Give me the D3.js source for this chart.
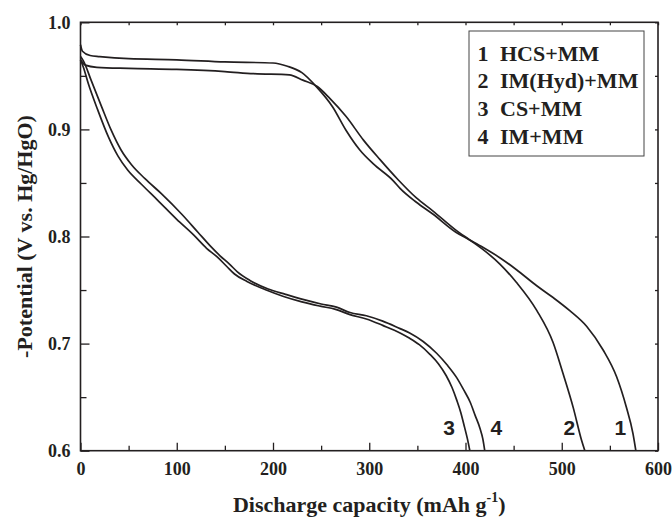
<!DOCTYPE html>
<html><head><meta charset="utf-8">
<script src="https://cdn.jsdelivr.net/npm/d3@7"></script>
<style>
html,body{margin:0;padding:0;background:#fff;}
svg text{font-family:"Liberation Serif","Times New Roman",serif;font-weight:bold;fill:#231f20;}
</style></head>
<body>
<svg id="chart" width="672" height="518"></svg>
<script>
// ---- data ----
const seriesNames = ["HCS+MM", "IM(Hyd)+MM", "CS+MM", "IM+MM"];
const seriesNumbers = ["1", "2", "3", "4"];

const cap1 = [0,2,10,20,50,100,150,200,215,230,245,262,276,290,304,325,332,349,366,390,404,418,436,453,474,491,508,526,543,557,567,574,577];
const pot1 = [0.979,0.973,0.969,0.968,0.966,0.965,0.963,0.962,0.959,0.953,0.940,0.921,0.899,0.881,0.868,0.852,0.845,0.832,0.821,0.804,0.797,0.790,0.780,0.769,0.754,0.743,0.731,0.716,0.694,0.669,0.641,0.616,0.600];

const cap2 = [0,5,17,50,100,150,180,217,231,246,259,276,294,311,330,349,366,390,404,418,436,453,474,491,501,512,520.5,524];
const pot2 = [0.965,0.960,0.958,0.957,0.956,0.954,0.952,0.951,0.946,0.940,0.929,0.912,0.890,0.872,0.853,0.836,0.824,0.806,0.797,0.788,0.774,0.757,0.731,0.701,0.673,0.640,0.610,0.600];

const cap3 = [0,3,8,18,29,39,49,63,80,100,118,131,142,152,160,173,193,211,230,249,265,280,297,314,332,342,352,363,372,380,386,391,395,399,402,404.5];
const pot3 = [0.965,0.958,0.943,0.918,0.893,0.875,0.862,0.849,0.834,0.816,0.801,0.789,0.781,0.772,0.765,0.758,0.750,0.744,0.739,0.735,0.732,0.727,0.723,0.717,0.710,0.705,0.699,0.690,0.681,0.670,0.659,0.647,0.636,0.622,0.611,0.600];

const cap4 = [0,3,11,22,32,42,53,67,84,105,122,135,145,155,163,176,195,213,232,250,266,280,297,314,332,342,356,370,381,391,398,405,410,415,418,420];
const pot4 = [0.968,0.964,0.946,0.921,0.899,0.881,0.867,0.854,0.840,0.821,0.804,0.791,0.782,0.774,0.767,0.759,0.751,0.746,0.741,0.737,0.734,0.729,0.726,0.721,0.714,0.710,0.702,0.691,0.680,0.668,0.657,0.645,0.633,0.621,0.611,0.600];

const xTicks = [0,100,200,300,400,500,600];
const yTicks = [0.6,0.7,0.8,0.9,1.0];
const xLabel = "Discharge capacity (mAh g";
const yLabel = "-Potential (V vs. Hg/HgO)";
// capacity positions of the curve numbers near the bottom
const curveLabelCap = [561, 508, 383, 432];

// ---- layout ----
const svg = d3.select("#chart");
const L = 80.5, R = 658, T = 22.3, B = 450.7;
const x = d3.scaleLinear().domain([0,600]).range([L,R]);
const y = d3.scaleLinear().domain([0.6,1.0]).range([B,T]);
const ink = "#231f20";

const series = [
  {cap:cap1, pot:pot1},
  {cap:cap2, pot:pot2},
  {cap:cap3, pot:pot3},
  {cap:cap4, pot:pot4}
];

const line = d3.line().x(d=>x(d[0])).y(d=>y(d[1])).curve(d3.curveMonotoneX);
const g = svg.append("g");
series.forEach(s=>{
  g.append("path")
   .datum(s.cap.map((c,i)=>[c,s.pot[i]]))
   .attr("d", line)
   .attr("fill","none")
   .attr("stroke", ink)
   .attr("stroke-width",1.7)
   .attr("stroke-linejoin","round");
});

// axes
const minorX = d3.range(0,601,50);
const minorY = d3.range(0,9).map(i=>+(0.6+i*0.05).toFixed(2));

function styleAxis(sel){
  sel.select(".domain").remove();
  sel.selectAll(".tick line").attr("stroke", ink).attr("stroke-width",1.3);
}
const bx = svg.append("g").attr("transform",`translate(0,${B})`)
  .call(d3.axisBottom(x).tickValues(xTicks).tickSizeInner(-8).tickSizeOuter(0).tickPadding(12).tickFormat(d3.format("d")));
styleAxis(bx);
bx.selectAll("text").attr("font-size",18).attr("fill",ink).attr("font-family","Liberation Serif, serif").attr("font-weight","bold");
const bxm = svg.append("g").attr("transform",`translate(0,${B})`)
  .call(d3.axisBottom(x).tickValues(minorX.filter(v=>v%100!==0)).tickSizeInner(-5).tickSizeOuter(0).tickFormat(""));
styleAxis(bxm);
const ly = svg.append("g").attr("transform",`translate(${L},0)`)
  .call(d3.axisLeft(y).tickValues(yTicks).tickSizeInner(-9).tickSizeOuter(0).tickPadding(10).tickFormat(d3.format(".1f")));
styleAxis(ly);
ly.selectAll("text").attr("font-size",18).attr("fill",ink).attr("font-family","Liberation Serif, serif").attr("font-weight","bold");
const lym = svg.append("g").attr("transform",`translate(${L},0)`)
  .call(d3.axisLeft(y).tickValues(minorY.filter((v,i)=>i%2===1)).tickSizeInner(-6).tickSizeOuter(0).tickFormat(""));
styleAxis(lym);
const tx = svg.append("g").attr("transform",`translate(0,${T})`)
  .call(d3.axisTop(x).tickValues(minorX).tickSizeInner(-3).tickSizeOuter(0).tickFormat(""));
styleAxis(tx);
const ry = svg.append("g").attr("transform",`translate(${R},0)`)
  .call(d3.axisRight(y).tickValues(minorY).tickSizeInner(-3).tickSizeOuter(0).tickFormat(""));
styleAxis(ry);

svg.append("rect").attr("x",L).attr("y",T).attr("width",R-L).attr("height",B-T)
  .attr("fill","none").attr("stroke",ink).attr("stroke-width",1.6);

// axis titles
const xt = svg.append("text").attr("x",(L+R)/2).attr("y",512).attr("text-anchor","middle").attr("font-size",22);
xt.append("tspan").text(xLabel);
xt.append("tspan").attr("font-size",14).attr("dy",-10).text("-1");
xt.append("tspan").attr("dy",10).text(")");

svg.append("text").attr("transform",`translate(32,${(T+B)/2}) rotate(-90)`)
  .attr("text-anchor","middle").attr("font-size",22).text(yLabel);

// legend
const legX = 469, legY = 31, legW = 175, legH = 125;
svg.append("rect").attr("x",legX).attr("y",legY).attr("width",legW).attr("height",legH)
  .attr("fill","#fff").attr("stroke","#444").attr("stroke-width",1);
seriesNames.forEach((n,i)=>{
  const t = svg.append("text").attr("y",60.5+i*27.8).attr("font-size",22);
  t.append("tspan").attr("x",477.5).text(seriesNumbers[i]);
  t.append("tspan").attr("x",500).text(n);
});

// curve number labels
seriesNumbers.forEach((n,i)=>{
  svg.append("text").attr("x",x(curveLabelCap[i])).attr("y",435)
    .attr("text-anchor","middle").attr("font-size",21)
    .style("font-family","'Liberation Sans', Arial, sans-serif")
    .text(n);
});
</script>
</body></html>
